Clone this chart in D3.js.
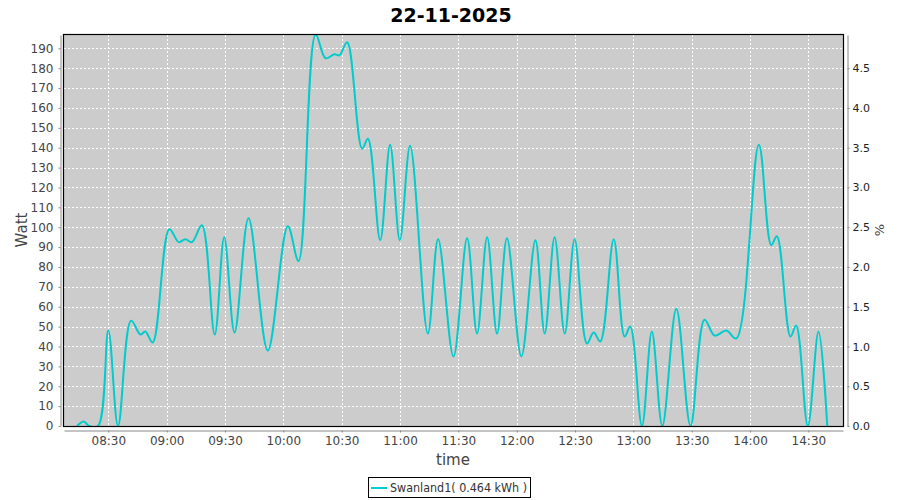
<!DOCTYPE html>
<html lang="en">
  <head>
    <meta charset="UTF-8" />
    <title>22-11-2025</title>
    <script src="https://d3js.org/d3.v7.min.js"></script>
    <style>
      body { margin: 0; background: #fff; }
      text { font-family: "DejaVu Sans", sans-serif; }
    </style>
  </head>
  <body>
    <div id="chart-container"></div>

    <script>
      // Data
      const times = [
        "08:13:54", "08:17:30", "08:20:00", "08:24:42", "08:30:00", "08:35:00",
        "08:41:42", "08:46:30", "08:49:00", "08:52:48", "09:01:24", "09:06:12",
        "09:09:36", "09:13:00", "09:18:06", "09:24:42", "09:29:36", "09:34:54",
        "09:42:06", "09:52:00", "10:02:18", "10:07:48", "10:16:36", "10:21:42",
        "10:26:18", "10:28:54", "10:32:48", "10:40:30", "10:43:30", "10:49:48",
        "10:54:54", "10:59:54", "11:05:12", "11:14:18", "11:19:36", "11:27:30",
        "11:34:30", "11:39:36", "11:44:48", "11:49:54", "11:55:00", "12:02:24",
        "12:09:36", "12:14:24", "12:19:30", "12:24:42", "12:29:48", "12:36:06",
        "12:39:36", "12:43:00", "12:49:54", "12:55:30", "12:58:24", "13:04:24",
        "13:09:30", "13:14:54", "13:22:06", "13:29:24", "13:36:36", "13:41:48",
        "13:47:48", "13:52:54", "14:04:30", "14:10:54", "14:13:48", "14:20:48",
        "14:23:42", "14:29:42", "14:35:12", "14:39:42"
      ];
      const watts = [
        0, 2.2, 0, 0, 48, 0,
        53, 46, 47.5, 42, 99, 92.5,
        94, 92.5, 101, 46, 95, 47,
        104.5, 38, 100.5, 83, 197, 185,
        187, 186.5, 193, 139.5, 144.5, 93.5,
        141.5, 93.5, 141, 46.5, 94, 35,
        94.5, 46.5, 95, 46.5, 94.5, 35,
        93.5, 46.5, 95, 46.5, 94, 41.5,
        47, 42.5, 94, 45, 50, 0,
        47.5, 0, 59, 0, 53.5, 45.5,
        48, 44, 141.5, 91, 95.5, 45,
        50.5, 0, 47.5, 0
      ];
      const timeTicks = ["08:30", "09:00", "09:30", "10:00", "10:30", "11:00", "11:30",
        "12:00", "12:30", "13:00", "13:30", "14:00", "14:30"];
      const wattTicks = d3.range(0, 200, 10);
      const pctTicks = [0, 0.5, 1, 1.5, 2, 2.5, 3, 3.5, 4, 4.5];
      const seriesName = "Swanland1( 0.464 kWh )";

      const W = 900, H = 500;
      const plot = { left: 64, top: 35, right: 843, bottom: 426 };

      const parseT = d3.timeParse("%H:%M:%S");
      const parseHM = d3.timeParse("%H:%M");
      const data = times.map((t, i) => ({ t: parseT(t), v: watts[i] }));

      const svg = d3
        .select("#chart-container")
        .append("svg")
        .attr("width", W)
        .attr("height", H);

      // Scales
      const x = d3
        .scaleTime()
        .domain([parseT("08:07:12"), parseT("14:47:48")])
        .range([plot.left, plot.right]);
      const y = d3.scaleLinear().domain([0, 196.7]).range([plot.bottom, plot.top]);
      // right axis is watts / 40
      const yPct = d3.scaleLinear().domain([0, 196.7 / 40]).range([plot.bottom, plot.top]);

      // Title
      svg
        .append("text")
        .attr("x", 451)
        .attr("y", 22)
        .attr("text-anchor", "middle")
        .style("font-size", "19px")
        .style("font-weight", "bold")
        .text("22-11-2025");

      // Plot background
      svg
        .append("rect")
        .attr("x", plot.left)
        .attr("y", plot.top)
        .attr("width", plot.right - plot.left)
        .attr("height", plot.bottom - plot.top)
        .attr("fill", "#cccccc");

      // Gridlines
      svg
        .append("g")
        .selectAll("line")
        .data(wattTicks.slice(1))
        .join("line")
        .attr("x1", plot.left)
        .attr("x2", plot.right)
        .attr("y1", (d) => Math.round(y(d)) + 0.5)
        .attr("y2", (d) => Math.round(y(d)) + 0.5)
        .attr("stroke", "#fff")
        .attr("stroke-dasharray", "2,2");
      svg
        .append("g")
        .selectAll("line")
        .data(timeTicks)
        .join("line")
        .attr("x1", (d) => Math.round(x(parseHM(d))) + 0.5)
        .attr("x2", (d) => Math.round(x(parseHM(d))) + 0.5)
        .attr("y1", plot.top)
        .attr("y2", plot.bottom)
        .attr("stroke", "#fff")
        .attr("stroke-dasharray", "2,2");

      // Clip for the line
      svg
        .append("clipPath")
        .attr("id", "clip")
        .append("rect")
        .attr("x", plot.left)
        .attr("y", plot.top)
        .attr("width", plot.right - plot.left)
        .attr("height", plot.bottom - plot.top);

      const line = d3
        .line()
        .x((d) => x(d.t))
        .y((d) => y(d.v))
        .curve(d3.curveCatmullRom.alpha(0.5));

      svg
        .append("path")
        .datum(data)
        .attr("clip-path", "url(#clip)")
        .attr("fill", "none")
        .attr("stroke", "#00cccc")
        .attr("stroke-width", 2)
        .attr("d", line);

      // Plot outline
      svg
        .append("rect")
        .attr("x", plot.left - 0.5)
        .attr("y", plot.top - 0.5)
        .attr("width", plot.right - plot.left + 1)
        .attr("height", plot.bottom - plot.top + 1)
        .attr("fill", "none")
        .attr("stroke", "#000")
        .attr("stroke-width", 1.2);

      // Axes
      const styleAxis = (g) => {
        g.select(".domain").attr("stroke", "#888");
        g.selectAll(".tick line").attr("stroke", "#888");
        g.selectAll(".tick text")
          .attr("fill", "#444")
          .style("font-family", "DejaVu Sans, sans-serif")
          .style("font-size", "12px");
      };

      svg
        .append("g")
        .attr("transform", "translate(60.5,0)")
        .call(d3.axisLeft(y).tickValues(wattTicks).tickSize(2).tickSizeOuter(0).tickPadding(5))
        .call(styleAxis);

      svg
        .append("g")
        .attr("transform", "translate(847.5,0)")
        .call(
          d3.axisRight(yPct).tickValues(pctTicks).tickFormat(d3.format(".1f"))
            .tickSize(2).tickSizeOuter(0).tickPadding(3)
        )
        .call(styleAxis)
        .call((g) => g.selectAll(".tick text").attr("fill", "#222").style("font-size", "11px"));

      svg
        .append("g")
        .attr("transform", "translate(0,430.5)")
        .call(
          d3.axisBottom(x).tickValues(timeTicks.map(parseHM))
            .tickFormat(d3.timeFormat("%H:%M")).tickSize(2).tickSizeOuter(0).tickPadding(4)
        )
        .call(styleAxis);

      // Axis labels
      svg
        .append("text")
        .attr("transform", "translate(27,230) rotate(-90)")
        .attr("text-anchor", "middle")
        .attr("fill", "#444")
        .style("font-size", "15px")
        .text("Watt");
      svg
        .append("text")
        .attr("transform", "translate(884,230) rotate(-90)")
        .attr("text-anchor", "middle")
        .attr("fill", "#444")
        .style("font-size", "13px")
        .text("%");
      svg
        .append("text")
        .attr("x", 453)
        .attr("y", 465)
        .attr("text-anchor", "middle")
        .attr("fill", "#444")
        .style("font-size", "15px")
        .text("time");

      // Legend
      const legend = svg.append("g");
      legend
        .append("rect")
        .attr("x", 368.5)
        .attr("y", 477.5)
        .attr("width", 162)
        .attr("height", 20)
        .attr("fill", "#fff")
        .attr("stroke", "#000");
      legend
        .append("line")
        .attr("x1", 371)
        .attr("x2", 387)
        .attr("y1", 488)
        .attr("y2", 488)
        .attr("stroke", "#00cccc")
        .attr("stroke-width", 2);
      legend
        .append("text")
        .attr("x", 390)
        .attr("y", 492)
        .attr("fill", "#333")
        .attr("textLength", 137)
        .attr("lengthAdjust", "spacingAndGlyphs")
        .style("font-size", "12px")
        .text(seriesName);
    </script>
  </body>
</html>
